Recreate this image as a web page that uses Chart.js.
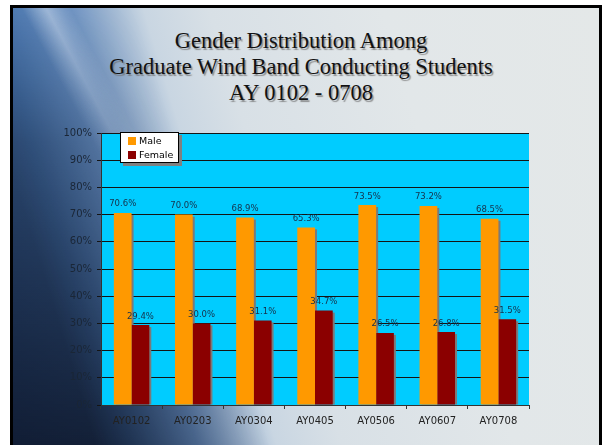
<!DOCTYPE html>
<html>
<head>
<meta charset="utf-8">
<script src="https://cdn.jsdelivr.net/npm/chart.js@4.4.1/dist/chart.umd.min.js"></script>
<style>
  html, body { margin: 0; padding: 0; background: #fff; }
  body { width: 602px; height: 445px; position: relative; overflow: hidden; }
  #slide {
    position: absolute; left: 10px; top: 5px; width: 586px; height: 450px;
    border-left: 3px solid #000; border-top: 3px solid #000; border-right: 3px solid #000;
    background: linear-gradient(73deg, #34609c 0%, #4877b2 16%, #6990c2 26%, #9db6d3 32%, #c9d6e2 37%, #d8e0e6 46%, #e2e7e9 70%, #e4e8e8 100%);
    overflow: hidden;
  }
  #shade {
    position: absolute; left: 0; top: 0; width: 100%; height: 100%;
    background: linear-gradient(to bottom, rgba(10,16,32,0.05) 0%, rgba(10,16,32,0.45) 30%, rgba(10,16,32,0.85) 100%);
    -webkit-mask-image: linear-gradient(73deg, #000 0%, #000 12%, transparent 36%);
    mask-image: linear-gradient(73deg, #000 0%, #000 12%, transparent 36%);
  }
  #risco {
    position: absolute; left: 0; top: 0; width: 100%; height: 100%;
    background: linear-gradient(62deg, rgba(255,255,255,0) 30%, rgba(235,242,250,0.45) 33%, rgba(255,255,255,0) 36%);
    -webkit-mask-image: linear-gradient(to bottom, #000 0%, transparent 45%);
    mask-image: linear-gradient(to bottom, #000 0%, transparent 45%);
  }
  #titre {
    position: absolute; left: 0; top: 28px; width: 602px; text-align: center;
    font-family: "Liberation Serif", serif; font-size: 22.5px; line-height: 26px; color: #111;
    text-shadow: 1.5px 1.5px 1px rgba(110,110,110,0.7);
  }
  #grafico { position: absolute; left: 0; top: 0; }
  #legenda {
    position: absolute; left: 120px; top: 132px; width: 57px; height: 29px;
    background: #fff; border: 1px solid #000; box-shadow: 3px 3px 0 #808080;
    font-family: "DejaVu Sans", sans-serif; font-size: 9.5px; color: #000;
  }
  .item { position: absolute; left: 7px; height: 12px; line-height: 12px; white-space: nowrap; }
  .cor { display: inline-block; width: 8px; height: 8px; margin-right: 3px; vertical-align: -1px; }
</style>
</head>
<body>
<div id="slide"><div id="shade"></div><div id="risco"></div></div>
<div id="titre">Gender Distribution Among<br>Graduate Wind Band Conducting Students<br>AY 0102 - 0708</div>
<canvas id="grafico" width="602" height="445"></canvas>
<div id="legenda"></div>
<script>
const anos = ['AY0102', 'AY0203', 'AY0304', 'AY0405', 'AY0506', 'AY0607', 'AY0708'];
const masculino = [70.6, 70.0, 68.9, 65.3, 73.5, 73.2, 68.5];
const feminino = [29.4, 30.0, 31.1, 34.7, 26.5, 26.8, 31.5];
const rotulos = ['Male', 'Female'];
const cores = ['#FF9900', '#8B0000'];

// fundo ciano da area do grafico
const fundoPlot = {
  id: 'fundoPlot',
  beforeDraw(chart) {
    const { ctx, chartArea: a } = chart;
    ctx.save();
    ctx.fillStyle = '#00CCFF';
    ctx.fillRect(a.left, a.top, a.right - a.left, a.bottom - a.top);
    ctx.restore();
  }
};

// sombra cinza atras das barras
const sombraBarras = {
  id: 'sombraBarras',
  beforeDatasetsDraw(chart) {
    const { ctx, chartArea: a } = chart;
    ctx.save();
    ctx.beginPath();
    ctx.rect(a.left, a.top, a.right - a.left, a.bottom - a.top);
    ctx.clip();
    ctx.fillStyle = '#7a7a7a';
    chart.data.datasets.forEach((ds, i) => {
      chart.getDatasetMeta(i).data.forEach(el => {
        const p = el.getProps(['x', 'y', 'base', 'width'], true);
        ctx.fillRect(p.x - p.width / 2 + 2, p.y + 2, p.width, p.base - p.y - 2);
      });
    });
    ctx.restore();
  }
};

// valores em cima das barras
const valores = {
  id: 'valores',
  afterDatasetsDraw(chart) {
    const ctx = chart.ctx;
    ctx.save();
    ctx.font = '8.5px "DejaVu Sans"';
    ctx.fillStyle = '#16304a';
    ctx.textAlign = 'center';
    ctx.textBaseline = 'alphabetic';
    chart.data.datasets.forEach((ds, i) => {
      chart.getDatasetMeta(i).data.forEach((el, j) => {
        ctx.fillText(ds.data[j].toFixed(1) + '%', el.x, el.y - 6.5);
      });
    });
    ctx.restore();
  }
};

const grafico = new Chart(document.getElementById('grafico'), {
  type: 'bar',
  data: {
    labels: anos,
    datasets: [
      { label: rotulos[0], data: masculino, backgroundColor: cores[0] },
      { label: rotulos[1], data: feminino, backgroundColor: cores[1] }
    ]
  },
  options: {
    responsive: false,
    animation: false,
    devicePixelRatio: 1,
    categoryPercentage: 0.58,
    barPercentage: 1,
    layout: { padding: { left: 61, right: 73, top: 133, bottom: 0 } },
    plugins: { legend: { display: false }, tooltip: { enabled: false } },
    scales: {
      x: {
        grid: { offset: true, drawOnChartArea: false, tickLength: 4, color: '#333' },
        border: { color: '#333' },
        ticks: { color: '#222', font: { family: 'DejaVu Sans', size: 10 }, padding: 6 },
        afterFit(s) { s.height = 40; }
      },
      y: {
        min: 0, max: 100,
        ticks: { stepSize: 10, callback: v => v + '%', color: '#1a2636', font: { family: 'DejaVu Sans', size: 10 }, padding: 5 },
        grid: { color: '#141414', tickLength: 4 },
        border: { color: '#333' },
        afterFit(s) { s.width = 40; }
      }
    }
  },
  plugins: [fundoPlot, sombraBarras, valores]
});

// legenda em html
const legenda = document.getElementById('legenda');
grafico.data.datasets.forEach((ds, i) => {
  const item = document.createElement('div');
  item.className = 'item';
  item.style.top = (2 + i * 14) + 'px';
  item.innerHTML = '<span class="cor" style="background:' + ds.backgroundColor + '"></span>' + ds.label;
  legenda.appendChild(item);
});
</script>
</body>
</html>
